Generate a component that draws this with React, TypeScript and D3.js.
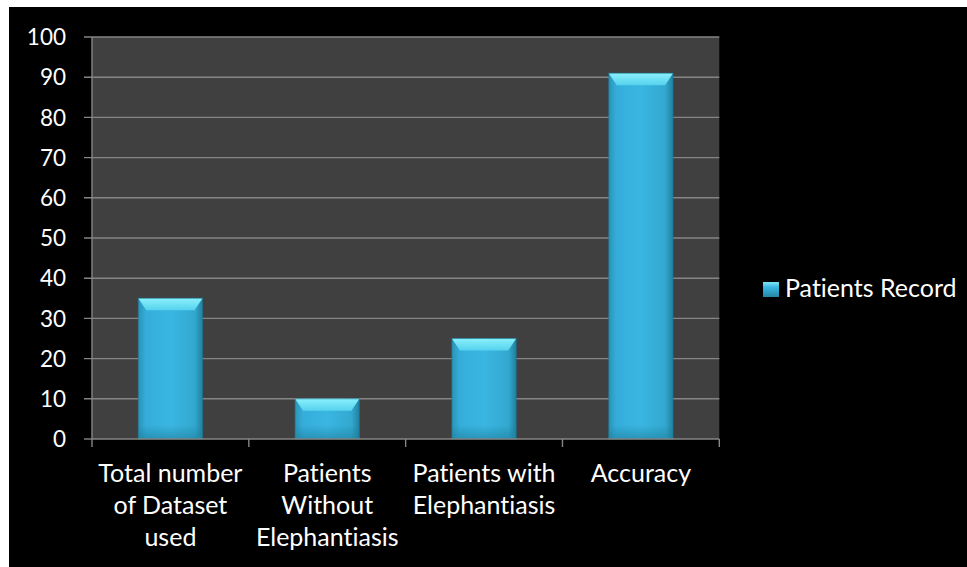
import React from 'react'
import * as d3 from 'd3'

// chart data
const categories = ['Total number of Dataset used', 'Patients Without Elephantiasis', 'Patients with Elephantiasis', 'Accuracy']
const categoryLines = [['Total number', 'of Dataset', 'used'], ['Patients', 'Without', 'Elephantiasis'], ['Patients with', 'Elephantiasis'], ['Accuracy']]
const patientsRecord = [35, 10, 25, 91]
const yTicks = [0, 10, 20, 30, 40, 50, 60, 70, 80, 90, 100]
const seriesName = 'Patients Record'

const W = 967, H = 567
const plot = { left: 92, right: 719.3, top: 37, bottom: 439 }
const font = 'Lato, "Open Sans", sans-serif'
const textStyle = { fontVariantLigatures: 'none' as const }

export default function App() {
  const x = d3.scaleBand<string>().domain(categories).range([plot.left, plot.right]).paddingInner(0.59).paddingOuter(0.295)
  const y = d3.scaleLinear().domain([0, 100]).range([plot.bottom, plot.top])
  const step = x.step()
  const bw = x.bandwidth()
  const bevel = 12, inset = 8

  return (
    <svg width={W} height={H} style={{ position: 'absolute', left: 0, top: 0, background: '#fff' }}>
      <defs>
        <linearGradient id="barBody" x1="0" x2="1" y1="0" y2="0">
          <stop offset="0" stopColor="#2a94b6" />
          <stop offset="0.12" stopColor="#35addb" />
          <stop offset="0.5" stopColor="#3ab6e2" />
          <stop offset="0.88" stopColor="#32a8cf" />
          <stop offset="1" stopColor="#21809f" />
        </linearGradient>
        <linearGradient id="barTop" x1="0" x2="0" y1="0" y2="1">
          <stop offset="0" stopColor="#8af0fb" />
          <stop offset="1" stopColor="#55d2ee" />
        </linearGradient>
        <linearGradient id="barBottom" x1="0" x2="0" y1="0" y2="1">
          <stop offset="0" stopColor="#1f7f9d" stopOpacity="0" />
          <stop offset="1" stopColor="#1f7f9d" stopOpacity="0.6" />
        </linearGradient>
        <linearGradient id="legendSwatch" x1="0" x2="0" y1="0" y2="1">
          <stop offset="0" stopColor="#7fe6f8" />
          <stop offset="0.35" stopColor="#3ab6e2" />
          <stop offset="1" stopColor="#2585a6" />
        </linearGradient>
      </defs>
      <rect x={9} y={7} width={W - 9} height={H - 7} fill="#000" />
      <rect x={plot.left} y={plot.top} width={plot.right - plot.left} height={plot.bottom - plot.top} fill="#404040" />

      {/* gridlines */}
      {yTicks.filter((t) => t > 0).map((t) => (
        <line key={t} x1={plot.left - 8} x2={plot.right} y1={y(t)} y2={y(t)} stroke="#858585" strokeWidth={1.4} />
      ))}

      {/* bars */}
      {categories.map((c, i) => {
        const x0 = x(c)!, x1 = x0 + bw
        const top = y(patientsRecord[i]), bot = y(0)
        return (
          <g key={c}>
            <rect x={x0} y={top} width={bw} height={bot - top} fill="url(#barBody)" />
            <rect x={x0} y={bot - 14} width={bw} height={14} fill="url(#barBottom)" />
            <polygon points={`${x0},${top} ${x1},${top} ${x1 - inset},${top + bevel} ${x0 + inset},${top + bevel}`} fill="url(#barTop)" />
            <rect x={x0} y={top} width={bw} height={bot - top} fill="none" stroke="#1d7895" strokeOpacity={0.6} strokeWidth={1} />
          </g>
        )
      })}

      {/* y axis */}
      <line x1={plot.left} x2={plot.left} y1={plot.top} y2={plot.bottom} stroke="#868686" strokeWidth={1.4} />
      <line x1={plot.left - 8} x2={plot.left} y1={plot.bottom} y2={plot.bottom} stroke="#868686" strokeWidth={1.4} />
      {yTicks.map((t) => (
        <text key={t} x={66} y={y(t)} dy="0.36em" textAnchor="end" fill="#fff" fontFamily={font} fontSize={22.5}>{t}</text>
      ))}

      {/* x axis */}
      <line x1={plot.left} x2={plot.right} y1={plot.bottom} y2={plot.bottom} stroke="#868686" strokeWidth={1.4} />
      {d3.range(categories.length + 1).map((i) => (
        <line key={i} x1={plot.left + i * step} x2={plot.left + i * step} y1={plot.bottom} y2={plot.bottom + 8} stroke="#868686" strokeWidth={1.4} />
      ))}
      {categories.map((c, i) => (
        <text key={c} x={x(c)! + bw / 2} y={482} textAnchor="middle" fill="#fff" fontFamily={font} fontSize={25} style={textStyle}>
          {categoryLines[i].map((l, j) => (
            <tspan key={j} x={x(c)! + bw / 2} dy={j === 0 ? 0 : 32}>{l}</tspan>
          ))}
        </text>
      ))}

      {/* legend */}
      <rect x={763} y={282} width={16} height={15} fill="url(#legendSwatch)" />
      <text x={785} y={297} fill="#fff" fontFamily={font} fontSize={25} style={textStyle}>{seriesName}</text>
    </svg>
  )
}
